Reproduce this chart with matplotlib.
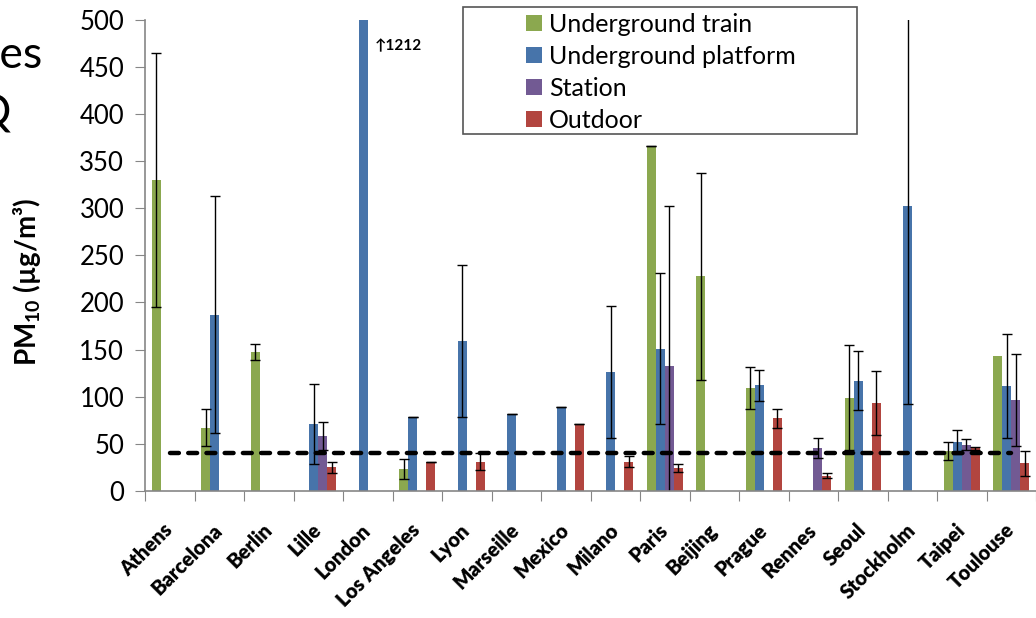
import numpy as np
import matplotlib
matplotlib.use('Agg')
import matplotlib.pyplot as plt
import matplotlib.transforms as mtransforms
from matplotlib.patches import Rectangle

nan = np.nan

cities = ['Athens', 'Barcelona', 'Berlin', 'Lille', 'London', 'Los Angeles', 'Lyon',
          'Marseille', 'Mexico', 'Milano', 'Paris', 'Beijing', 'Prague', 'Rennes',
          'Seoul', 'Stockholm', 'Taipei', 'Toulouse']

series_names = ['Underground train', 'Underground platform', 'Station', 'Outdoor']

train = [330, 67, 147, nan, nan, 23, nan, nan, nan, nan, 366, 228, 109, nan, 99, nan, 42, 143]
train_err = [135, 20, 8.5, nan, nan, 11, nan, nan, nan, nan, 0, 110, 22, nan, 56, nan, 9.5, nan]

platform = [nan, 187, nan, 71, 1212, 78, 159, 82, 89, 126, 151, nan, 112, nan, 117, 302, 52, 111]
platform_err = [nan, 126, nan, 42.5, nan, 0, 81, 0, 0, 70.5, 80.5, nan, 16.5, nan, 31, 210, 12.5, 55]

station = [nan, nan, nan, 58, nan, nan, nan, nan, nan, nan, 132, nan, nan, 45, nan, nan, 49, 96]
station_err = [nan, nan, nan, 15, nan, nan, nan, nan, nan, nan, 170, nan, nan, 10.5, nan, nan, 6, 49]

outdoor = [nan, nan, nan, 25, nan, 30, 31, nan, 71, 31, 24, nan, 77, 16, 93, nan, 45, 29]
outdoor_err = [nan, nan, nan, 6, nan, 0, 9, nan, 0, 6, 4.5, nan, 10, 2.7, 34, nan, 1.6, 13.5]

limit_value = 40
london_label = '\u21911212'

colors = ['#8BA84F', '#4774AA', '#725A93', '#B2453F']

plt.rcParams['font.family'] = ['Lato', 'DejaVu Sans']
plt.rcParams['mathtext.fontset'] = 'custom'
plt.rcParams['mathtext.rm'] = 'Lato'
plt.rcParams['mathtext.bf'] = 'Lato:bold'

fig = plt.figure(figsize=(10.36, 6.18), dpi=100)
ax = fig.add_axes([0.14, 0.206, 0.86, 0.7615])

x = np.arange(len(cities))
w = 0.182
all_vals = [train, platform, station, outdoor]
all_errs = [train_err, platform_err, station_err, outdoor_err]

handles = []
for i, (vals, errs) in enumerate(zip(all_vals, all_errs)):
    vals = np.array(vals, dtype=float)
    errs = np.array(errs, dtype=float)
    xs = x + (i - 1.5) * w
    m = ~np.isnan(vals)
    h = ax.bar(xs[m], vals[m], width=w, color=colors[i], linewidth=0, label=series_names[i])
    handles.append(h)
    me = m & ~np.isnan(errs)
    ax.errorbar(xs[me], vals[me], yerr=errs[me], fmt='none', ecolor='black',
                elinewidth=1.0, capsize=3.5, capthick=1.0)

ax.plot(x, [limit_value] * len(x), color='black', linewidth=3.2, linestyle=(0, (2.0, 2.1)),
        dash_capstyle='round')

ax.text(4.14, 472, london_label, fontsize=11, fontweight='bold', ha='left', va='center',
        family=['Lato', 'DejaVu Sans'])

ax.set_xlim(-0.5, len(cities) - 0.5)
ax.set_ylim(0, 500)
ax.set_yticks(np.arange(0, 501, 50))
ax.set_xticks(np.arange(-0.5, len(cities), 1))
ax.set_xticklabels([])
ax.set_xticks(x, minor=True)
ax.set_xticklabels(cities, minor=True, rotation=45, ha='right', va='center',
                   rotation_mode='anchor', fontsize=14.5, fontweight='heavy')
shift = mtransforms.ScaledTranslation(9 / 100, 0, fig.dpi_scale_trans)
for lbl in ax.get_xticklabels(minor=True):
    lbl.set_transform(lbl.get_transform() + shift)

spine_color = '#868686'
for s in ['top', 'right']:
    ax.spines[s].set_visible(False)
for s in ['left', 'bottom']:
    ax.spines[s].set_color(spine_color)
    ax.spines[s].set_linewidth(1.2)
ax.tick_params(axis='y', which='major', length=7, color=spine_color, labelsize=18.5, pad=8)
ax.tick_params(axis='x', which='major', length=7, color=spine_color)
ax.tick_params(axis='x', which='minor', length=0, pad=26)

ax.set_ylabel(r'PM$_{\mathbf{10}}$ (µg/m³)', fontsize=20, fontweight='bold')
ax.yaxis.set_label_coords(-0.115, 0.444)

# legend with a plain box drawn around it
fig.patches.append(Rectangle((463 / 1036, 1 - 134 / 618), (857 - 463) / 1036, 127 / 618,
                             transform=fig.transFigure, fill=False, edgecolor='#555555',
                             linewidth=1.2, zorder=5))
fig.legend(handles=handles, loc='upper left', bbox_to_anchor=(526 / 1036, 1 - 13 / 618),
           frameon=False, fontsize=18, handlelength=0.62, handleheight=0.62,
           handletextpad=0.3, labelspacing=0.36, borderpad=0, borderaxespad=0)

# partial slide title behind the chart
fig.text(43 / 1036, 1 - 68 / 618, 'values', fontsize=32, ha='right', va='baseline')
fig.text(12 / 1036, 1 - 125 / 618, 'IAQ', fontsize=32, ha='right', va='baseline')

fig.savefig('out.png', dpi=100)
